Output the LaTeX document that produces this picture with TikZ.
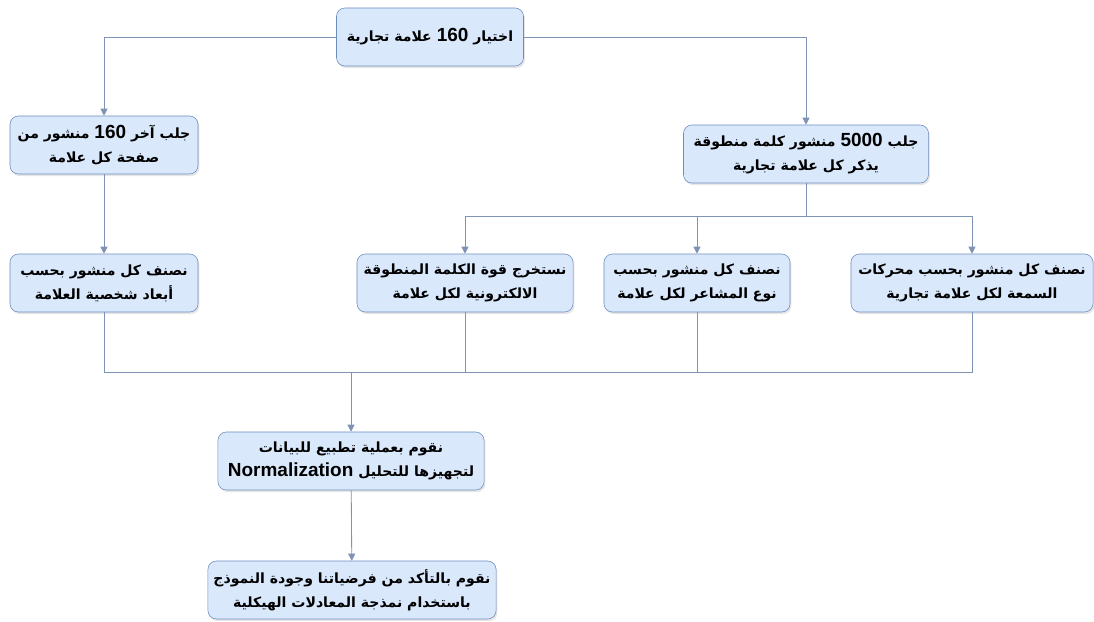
\documentclass[tikz,border=0pt]{standalone}
\usepackage{fontspec}
\setmainfont{Liberation Sans}
\newfontfamily\arabicfont[Script=Arabic]{DejaVu Sans}
\TeXXeTstate=1
\usepackage{xcolor}
\usetikzlibrary{positioning,arrows.meta,shadows}
\definecolor{boxfill}{HTML}{DAE8FC}
\definecolor{boxline}{HTML}{6C8EBF}
\definecolor{linkcol}{HTML}{7F93B4}
\newcommand{\ar}[1]{\beginR #1\endR}
\newcommand{\latn}[1]{\beginL{\normalfont\bfseries\fontsize{13.5}{17}\selectfont #1}\endL}

\begin{document}
\begin{tikzpicture}[x=0.025cm,y=-0.025cm,
    box/.style={draw=boxline, fill=boxfill, rounded corners=6pt, align=center,
      font=\arabicfont\bfseries\fontsize{10}{17}\selectfont, inner sep=2pt,
      minimum height=1.45cm, drop shadow={opacity=0.2, shadow xshift=1pt, shadow yshift=-1.5pt}},
    link/.style={draw=linkcol, line width=0.6pt},
    arr/.style={link, -{Triangle[length=5pt,width=5pt]}}]
    \useasboundingbox (0,0) rectangle (1094,621);
    \node [box, minimum width=4.675cm] (brands) at (430,37) {\ar{اختيار \latn{160} علامة تجارية}};
    \node [box, minimum width=4.7cm] (posts) at (104,145) {\ar{جلب آخر \latn{160} منشور من}\\\ar{صفحة كل علامة}};
    \node [box, minimum width=6.125cm] (wom) at (806,154) {\ar{جلب \latn{5000} منشور كلمة منطوقة}\\\ar{يذكر كل علامة تجارية}};
    \node [box, minimum width=4.7cm] (pers) at (104,283) {\ar{نصنف كل منشور بحسب}\\\ar{أبعاد شخصية العلامة}};
    \node [box, minimum width=5.4cm] (ewom) at (465,283) {\ar{نستخرج قوة الكلمة المنطوقة}\\\ar{الالكترونية لكل علامة}};
    \node [box, minimum width=4.65cm] (emo) at (697,283) {\ar{نصنف كل منشور بحسب}\\\ar{نوع المشاعر لكل علامة}};
    \node [box, minimum width=6.05cm] (rep) at (972,283) {\ar{نصنف كل منشور بحسب محركات}\\\ar{السمعة لكل علامة تجارية}};
    \node [box, minimum width=6.65cm] (norm) at (351,461) {\ar{نقوم بعملية تطبيع للبيانات}\\\ar{لتجهيزها للتحليل \latn{Normalization}}};
    \node [box, minimum width=7.2cm] (sem) at (352,590) {\ar{نقوم بالتأكد من فرضياتنا وجودة النموذج}\\\ar{باستخدام نمذجة المعادلات الهيكلية}};
    \draw [arr] (brands.west) -| (posts.north);
    \draw [arr] (brands.east) -| (wom.north);
    \draw [arr] (posts) -- (pers);
    \coordinate (split) at (806,216);
    \draw [link] (wom.south) -- (split);
    \foreach \n in {ewom,emo,rep} \draw [arr] (split) -| (\n.north);
    \coordinate (merge) at (351,372);
    \foreach \n in {pers,ewom,emo,rep} \draw [link] (\n.south) |- (merge);
    \draw [arr] (merge) -- (norm);
    \draw [arr] (norm) -- (sem);
\end{tikzpicture}
\end{document}
